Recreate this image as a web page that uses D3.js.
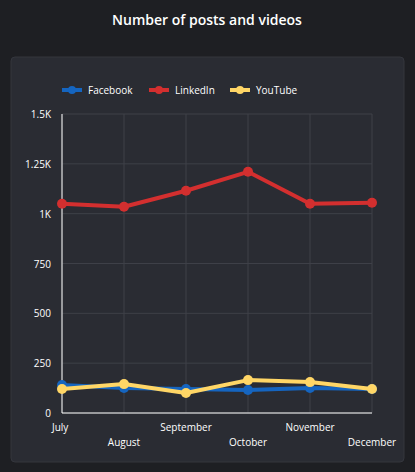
<!DOCTYPE html>
<html><head><meta charset="utf-8">
<script src="https://cdn.jsdelivr.net/npm/d3@7"></script>
<style>
body{margin:0;background:#1e1f23;font-family:"Open Sans",sans-serif;}
</style></head>
<body><svg width="415" height="472"></svg>
<script>
const months = ["July","August","September","October","November","December"];
const facebook = [140,125,120,115,125,120];
const linkedin = [1050,1035,1115,1210,1050,1055];
const youtube = [120,145,100,165,155,120];
const yTicks = [0,250,500,750,1000,1250,1500];
const yLabels = ["0","250","500","750","1K","1.25K","1.5K"];

const series = [
  {name:"Facebook", color:"#1565c0", values:facebook},
  {name:"LinkedIn", color:"#d32f2f", values:linkedin},
  {name:"YouTube", color:"#ffd666", values:youtube}
];

var svg = d3.select("svg");
svg.append("text").attr("x",207).attr("y",25).attr("text-anchor","middle")
  .attr("fill","#fff").attr("font-size",14).attr("font-weight",600)
  .text("Number of posts and videos");
svg.append("rect").attr("x",11).attr("y",57).attr("width",393).attr("height",405)
  .attr("rx",4).attr("fill","#2a2c33").attr("stroke","#34363d");

const x = d3.scalePoint().domain(months).range([62,372]);
const y = d3.scaleLinear().domain([0,1500]).range([413,114]);

// grid
svg.append("g").selectAll("line").data(yTicks).enter().append("line")
  .attr("x1",62).attr("x2",372).attr("y1",d=>y(d)).attr("y2",d=>y(d))
  .attr("stroke","#3e4048");
svg.append("g").selectAll("line").data(months).enter().append("line")
  .attr("x1",d=>x(d)).attr("x2",d=>x(d)).attr("y1",114).attr("y2",413)
  .attr("stroke","#3e4048");
svg.append("line").attr("x1",62).attr("x2",62).attr("y1",114).attr("y2",413).attr("stroke","#fff");
svg.append("line").attr("x1",62).attr("x2",372).attr("y1",413).attr("y2",413).attr("stroke","#fff");

svg.append("g").selectAll("text").data(yTicks).enter().append("text")
  .attr("x",51).attr("y",d=>y(d)+4).attr("text-anchor","end")
  .attr("fill","#fff").attr("font-size",10).text((d,i)=>yLabels[i]);
svg.append("g").selectAll("text").data(months).enter().append("text")
  .attr("x",d=>x(d)).attr("y",(d,i)=>i%2?446:431)
  .attr("text-anchor",(d,i)=>i==0?"start":i==5?"middle":"middle")
  .attr("dx",(d,i)=>i==0?-10:i==5?0:0)
  .attr("fill","#fff").attr("font-size",10).text(d=>d);

const line = d3.line().x((d,i)=>x(months[i])).y(d=>y(d));
series.forEach(s=>{
  const g = svg.append("g");
  g.append("path").attr("d",line(s.values)).attr("fill","none")
    .attr("stroke",s.color).attr("stroke-width",4).attr("stroke-linejoin","round");
  g.selectAll("circle").data(s.values).enter().append("circle")
    .attr("cx",(d,i)=>x(months[i])).attr("cy",d=>y(d)).attr("r",5).attr("fill",s.color);
});

// legend
const lx = [62,149,230];
const lg = svg.append("g").selectAll("g").data(series).enter().append("g")
  .attr("transform",(d,i)=>`translate(${lx[i]},90)`);
lg.append("line").attr("x1",0).attr("x2",20).attr("stroke",d=>d.color).attr("stroke-width",4);
lg.append("circle").attr("cx",10).attr("r",4).attr("fill",d=>d.color);
lg.append("text").attr("x",26).attr("y",4).attr("fill","#fff").attr("font-size",10).text(d=>d.name);
</script></body></html>
